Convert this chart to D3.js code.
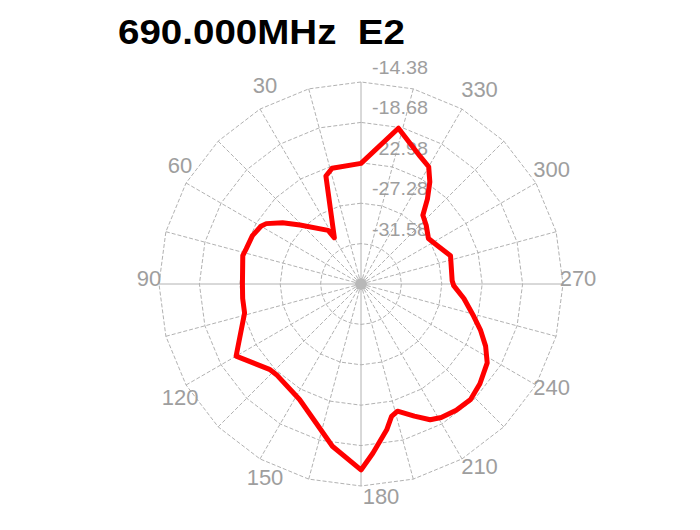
<!DOCTYPE html>
<html>
<head>
<meta charset="utf-8">
<script src="https://cdn.jsdelivr.net/npm/d3@7"></script>
<style>
  html, body { margin: 0; padding: 0; background: #fff; }
  svg { display: block; }
</style>
</head>
<body>
<script>
// ---- data ----
const titleText = "690.000MHz  E2";
const ringValues = [-14.38, -18.68, -22.98, -27.28, -31.58];
const centerValue = -35.88;
const angleLabels = [30, 60, 90, 120, 150, 180, 210, 240, 270, 300, 330];
// angle in degrees, counter-clockwise from top
const patternAngles = [0, 14, 18, 30, 31.5, 46, 52, 57.5, 60, 66, 73, 76.5, 90, 97, 104, 120, 133, 137, 152, 162, 170, 180, 184, 190, 193, 196, 202, 207, 211, 217, 223.5, 230, 238, 243.5, 249, 254, 262, 269, 272, 287.5, 297, 304, 312, 318, 322, 326, 330, 335, 346.5];
const patternValues = [-23.04, -23.18, -23.79, -30.21, -29.19, -26.85, -25.29, -23.92, -23.58, -23.23, -23.10, -22.94, -23.26, -23.19, -23.11, -20.53, -22.56, -22.69, -21.95, -20.35, -18.34, -16.09, -17.82, -20.12, -21.42, -21.80, -20.72, -19.66, -19.30, -19.04, -18.94, -19.36, -20.04, -21.06, -22.27, -23.40, -24.82, -26.01, -26.17, -25.89, -26.81, -27.22, -26.54, -26.04, -24.39, -22.78, -21.47, -20.93, -18.83];

// ---- layout ----
const W = 700, H = 530;
const cx = 361, cy = 284, R = 202;
const gridColor = "#b2b2b2";
const labelColor = "#9e9e9e";

const svg = d3.select("body").append("svg").attr("width", W).attr("height", H);

const r = d3.scaleLinear().domain([centerValue, ringValues[0]]).range([0, R]);
const toRad = d => -d * Math.PI / 180; // d3 radial angle is clockwise; ours is counter-clockwise

const g = svg.append("g").attr("transform", `translate(${cx},${cy})`);

// rings as 24-gons
const spokeAngles = d3.range(0, 360, 15);
const ringLine = d3.lineRadial().curve(d3.curveLinearClosed);
g.selectAll("path.ring").data(ringValues).enter().append("path")
  .attr("class", "ring")
  .attr("d", v => ringLine(spokeAngles.map(a => [toRad(a), r(v)])))
  .attr("fill", "none").attr("stroke", gridColor).attr("stroke-width", 1)
  .attr("stroke-dasharray", "4,2");

// spokes
g.selectAll("line.spoke").data(spokeAngles).enter().append("line")
  .attr("class", "spoke")
  .attr("x1", 0).attr("y1", 0)
  .attr("x2", a => -R * Math.sin(a * Math.PI / 180))
  .attr("y2", a => -R * Math.cos(a * Math.PI / 180))
  .attr("stroke", gridColor).attr("stroke-width", 1)
  .attr("stroke-dasharray", a => (a % 90 === 0) ? null : "4,2");

// center dot
g.append("circle").attr("r", 6).attr("fill", "#b8b8b8");

// ring value labels
g.selectAll("text.rlab").data(ringValues).enter().append("text")
  .attr("class", "rlab")
  .attr("x", 11).attr("y", v => -r(v) - 8)
  .attr("font-family", "'Liberation Sans', Arial, sans-serif")
  .attr("font-size", 19)
  .attr("fill", labelColor)
  .attr("textLength", 56).attr("lengthAdjust", "spacingAndGlyphs")
  .text(v => v.toFixed(2));

// angle labels
const LR = 218;
g.selectAll("text.alab").data(angleLabels).enter().append("text")
  .attr("class", "alab")
  .attr("x", a => { const u = -Math.sin(a * Math.PI / 180); return LR * u + 20 - 3.5 * u - 17.5 * Math.abs(u); })
  .attr("y", a => {
    const u = -Math.sin(a * Math.PI / 180), v = -Math.cos(a * Math.PI / 180);
    let dy = -6 + 24 * Math.max(0, -u) * Math.max(0, v);
    if (u < -0.01 && v < -0.01) dy -= 4;
    return LR * v + dy;
  })
  .attr("text-anchor", "middle").attr("dominant-baseline", "central")
  .attr("font-family", "'Liberation Sans', Arial, sans-serif")
  .attr("font-size", 22)
  .attr("fill", labelColor)
  .text(a => a);

// pattern
const pattern = patternAngles.map((a, i) => [toRad(a), r(patternValues[i])]);
g.append("path")
  .attr("d", d3.lineRadial().curve(d3.curveLinearClosed)(pattern))
  .attr("fill", "none").attr("stroke", "#ff0000").attr("stroke-width", 5)
  .attr("stroke-linejoin", "round");

// title
svg.append("text")
  .attr("x", 118).attr("y", 44)
  .attr("font-family", "'Liberation Sans', Arial, sans-serif")
  .attr("font-weight", "bold").attr("font-size", 35)
  .attr("fill", "#000")
  .style("white-space", "pre")
  .attr("textLength", 287).attr("lengthAdjust", "spacingAndGlyphs")
  .text(titleText);
</script>
</body>
</html>
